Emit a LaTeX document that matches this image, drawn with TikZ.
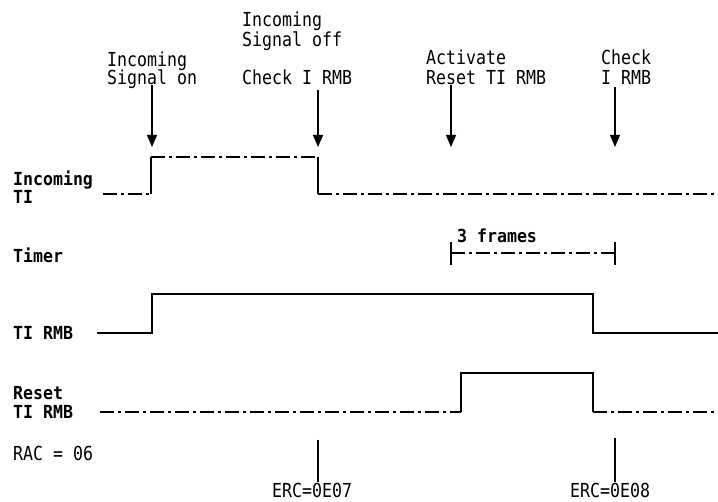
\documentclass[tikz,border=0pt]{standalone}
\usepackage{fontspec}
\usetikzlibrary{arrows.meta}
\newfontfamily\dmono[FakeStretch=0.86]{DejaVu Sans Mono}
\newfontfamily\dmonob[FakeStretch=0.92]{DejaVu Sans Mono Bold}
\begin{document}
\begin{tikzpicture}[x=1pt,y=-1pt,
  txt/.style={inner sep=0pt,anchor=base west,font=\dmono\fontsize{19.3}{20}\selectfont},
  lbl/.style={inner sep=0pt,anchor=base west,font=\dmonob\fontsize{18}{19}\selectfont},
  sig/.style={line width=1.1pt},
  brk/.style={line width=1.1pt,dash pattern=on 14pt off 4pt on 3pt off 4pt},
  evarrow/.style={line width=1.1pt,-{Triangle[width=10pt,length=12pt]}},
  erc/.style={line width=1.1pt}]
\useasboundingbox (0,0) rectangle (718,502);
% top labels
\node[txt] (on1) at (107,67) {Incoming};
\node[txt] (on2) at (107,85) {Signal on};
\node[txt] (off1) at (242,27) {Incoming};
\node[txt] (off2) at (242,47) {Signal off};
\node[txt] (chk1) at (242,85) {Check I RMB};
\node[txt] (act1) at (426,65) {Activate};
\node[txt] (act2) at (426,85) {Reset TI RMB};
\node[txt] (chk2a) at (601,65) {Check};
\node[txt] (chk2b) at (601,85) {I RMB};
% arrows
\coordinate (s1) at (152,85);  \coordinate (t1) at (152,147);
\coordinate (s2) at (318,90);  \coordinate (t2) at (318,147);
\coordinate (s3) at (451,85);  \coordinate (t3) at (451,147);
\coordinate (s4) at (615,87);  \coordinate (t4) at (615,147);
\draw[evarrow] (s1) -- (t1);
\draw[evarrow] (s2) -- (t2);
\draw[evarrow] (s3) -- (t3);
\draw[evarrow] (s4) -- (t4);
% left labels
\node[lbl] (inc1) at (13,186) {Incoming};
\node[lbl] (inc2) at (13,204) {TI};
\node[lbl] (tmr) at (13,263) {Timer};
\node[lbl] (rmb) at (13,340) {TI RMB};
\node[lbl] (rst1) at (13,400) {Reset};
\node[lbl] (rst2) at (13,419) {TI RMB};
\node[txt] (rac) at (13,461) {RAC = 06};
% Incoming TI
\draw[brk] (103,194) -- (151,194);
\draw[sig] (151,194) -- (151,157);
\draw[brk] (151,157) -- (318,157);
\draw[sig] (318,157) -- (318,194);
\draw[brk] (318,194) -- (718,194);
% Timer
\node[lbl] (frm) at (457,243) {3 frames};
\draw[sig] (451,242) -- (451,265);
\draw[sig] (615,242) -- (615,265);
\draw[brk] (451,253) -- (615,253);
% TI RMB
\draw[sig] (97,333) -- (152,333) -- (152,294) -- (593,294) -- (593,333) -- (718,333);
% Reset TI RMB
\draw[brk] (100,412) -- (461,412);
\draw[sig] (461,412) -- (461,373) -- (593,373) -- (593,412);
\draw[brk] (593,412) -- (718,412);
% ERC
\node[txt] (e7) at (272,498) {ERC=0E07};
\node[txt] (e8) at (570,498) {ERC=0E08};
\coordinate (e7t) at (318,440);
\coordinate (e8t) at (615,438);
\draw[erc] (e7t) -- (318,482);
\draw[erc] (e8t) -- (615,482);
\end{tikzpicture}
\end{document}
